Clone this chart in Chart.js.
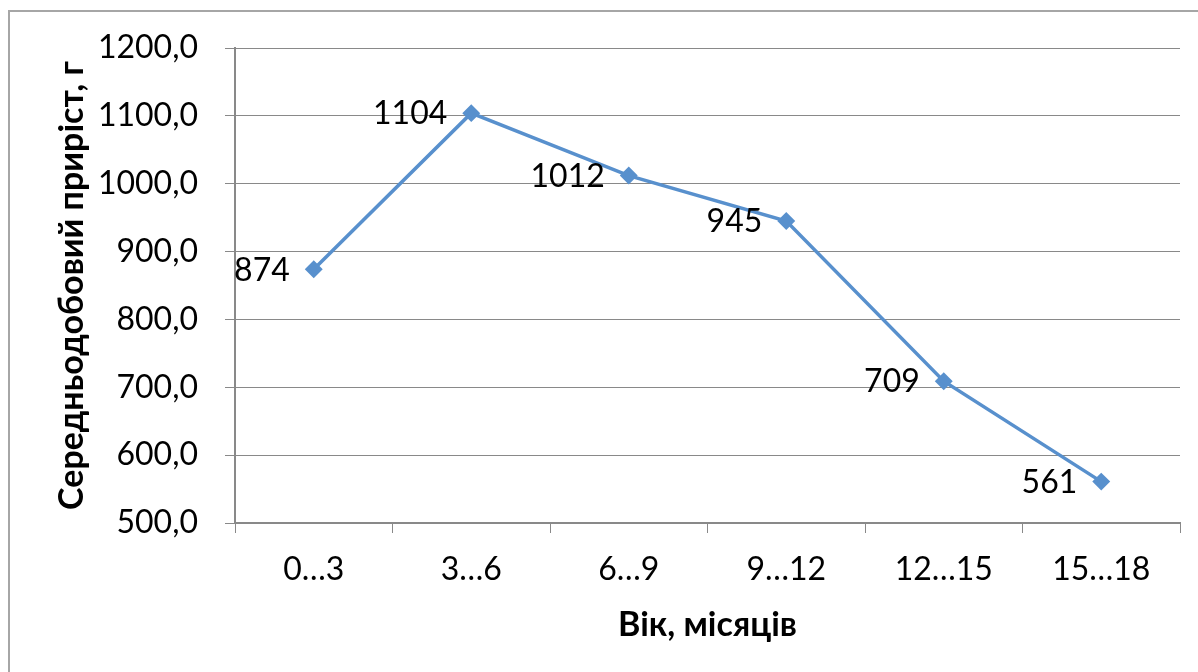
<!DOCTYPE html>
<html>
<head>
<meta charset="utf-8">
<script src="https://cdn.jsdelivr.net/npm/chart.js@4.4.1/dist/chart.umd.min.js"></script>
<style>
  html, body { margin: 0; padding: 0; background: #fff; }
  canvas { display: block; }
</style>
</head>
<body>
<canvas id="lineChart" width="1198" height="672"></canvas>
<script>
'use strict';

// Вік, місяців
var categories = ['0…3', '3…6', '6…9', '9…12', '12…15', '15…18'];
// Середньодобовий приріст, г
var gain = [874, 1104, 1012, 945, 709, 561];
var yMin = 500, yMax = 1200, yStep = 100;

var lineBlue = '#5890CD';
var axisGray = '#898989';

// frame around the whole chart (only top/left edges fall inside the window)
var framePlugin = {
  id: 'frame',
  beforeDraw: function (chart) {
    var ctx = chart.ctx;
    ctx.save();
    ctx.fillStyle = '#fff';
    ctx.fillRect(0, 0, chart.width, chart.height);
    ctx.strokeStyle = '#a6a6a6';
    ctx.lineWidth = 2;
    ctx.strokeRect(9, 11, 1400, 1000);
    ctx.restore();
  }
};

// value labels to the left of each point
var valueLabels = {
  id: 'valueLabels',
  afterDatasetsDraw: function (chart) {
    var ctx = chart.ctx;
    var meta = chart.getDatasetMeta(0);
    ctx.save();
    ctx.font = '32px Lato';
    ctx.fillStyle = '#000';
    ctx.textAlign = 'right';
    ctx.textBaseline = 'middle';
    meta.data.forEach(function (pt, i) {
      ctx.fillText(String(gain[i]), pt.x - 24, pt.y + 1);
    });
    ctx.restore();
  }
};

new Chart(document.getElementById('lineChart').getContext('2d'), {
  type: 'line',
  data: {
    labels: categories,
    datasets: [{
      data: gain,
      borderColor: lineBlue,
      backgroundColor: lineBlue,
      borderWidth: 3.5,
      pointStyle: 'rectRot',
      pointRadius: 6.5,
      pointBackgroundColor: lineBlue,
      pointBorderColor: lineBlue,
      tension: 0
    }]
  },
  options: {
    responsive: false,
    animation: false,
    layout: { padding: { left: 0, right: 18, top: 48, bottom: 0 } },
    plugins: {
      legend: { display: false },
      tooltip: { enabled: false }
    },
    scales: {
      x: {
        type: 'category',
        offset: true,
        grid: {
          offset: true,
          drawOnChartArea: false,
          drawTicks: true,
          tickLength: 10,
          color: axisGray
        },
        border: { color: axisGray, width: 2 },
        ticks: {
          color: '#000',
          font: { family: 'Lato', size: 32 },
          padding: 17,
          maxRotation: 0
        },
        title: {
          display: true,
          text: 'Вік, місяців',
          color: '#000',
          font: { family: 'Lato', size: 34, weight: 'bold' },
          padding: { top: 0, bottom: 27 }
        },
        afterFit: function (scale) { scale.height = 149; }
      },
      y: {
        min: yMin,
        max: yMax,
        grid: {
          color: axisGray,
          lineWidth: 1,
          drawTicks: true,
          tickLength: 10
        },
        border: { color: axisGray, width: 2 },
        ticks: {
          stepSize: yStep,
          color: '#000',
          font: { family: 'Lato', size: 32 },
          padding: 27,
          callback: function (v) { return v.toFixed(1).replace('.', ','); }
        },
        title: {
          display: true,
          text: 'Середньодобовий приріст, г',
          color: '#000',
          font: { family: 'Lato', size: 34, weight: 'bold' },
          padding: { top: 52, bottom: 0 }
        },
        afterFit: function (scale) { scale.width = 235; }
      }
    }
  },
  plugins: [framePlugin, valueLabels]
});
</script>
</body>
</html>
